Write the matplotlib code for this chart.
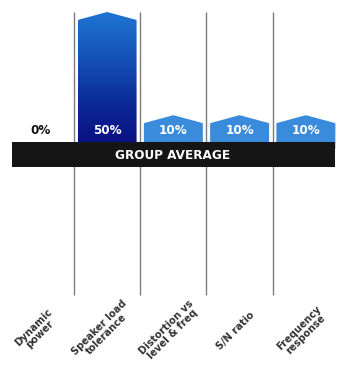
import matplotlib.pyplot as plt
import numpy as np
from matplotlib.patches import Polygon, Rectangle
from matplotlib.colors import LinearSegmentedColormap

categories = ["Dynamic\npower", "Speaker load\ntolerance", "Distortion vs\nlevel & freq",
              "S/N ratio", "Frequency\nresponse"]
values = [0, 50, 10, 10, 10]
value_labels = ["0%", "50%", "10%", "10%", "10%"]
band_label = "GROUP AVERAGE"

plt.rcParams['font.family'] = ['DejaVu Sans']
plt.rcParams['font.stretch'] = 'condensed'

fig = plt.figure(figsize=(3.48, 3.70), dpi=100)
fig.patch.set_facecolor('white')
ax = fig.add_axes([7.7 / 348, 0, 331.3 / 348, 1])

bar_w = 0.89
cap = 3.1  # height of the pointed top
blue = '#3a8bdb'
grad_cmap = LinearSegmentedColormap.from_list('g', ['#0a0c7c', '#0c2a98', '#1552b8', '#1f74d2'])

# divider lines
ax.vlines(np.arange(len(categories) - 1) + 0.5, -56.6, 53.1, color='#7c7c7c', lw=1.0, zorder=1)

top = max(values)
for i, v in enumerate(values):
    if v <= 0:
        continue
    pts = [(i - bar_w / 2, 0), (i - bar_w / 2, v), (i, v + cap), (i + bar_w / 2, v), (i + bar_w / 2, 0)]
    if v == top:
        poly = Polygon(pts, closed=True, facecolor='none', edgecolor='none', zorder=2)
        ax.add_patch(poly)
        grad = np.linspace(0, 1, 256).reshape(-1, 1)
        im = ax.imshow(grad, extent=[i - bar_w / 2, i + bar_w / 2, 0, v + cap], origin='lower',
                       aspect='auto', cmap=grad_cmap, zorder=2)
        im.set_clip_path(poly)
    else:
        ax.add_patch(Polygon(pts, closed=True, facecolor=blue, edgecolor='none', zorder=2))

# value labels
for i, (v, lab) in enumerate(zip(values, value_labels)):
    ax.text(i, 7.0, lab, ha='center', va='center', fontsize=9.5, fontweight='bold',
            color='white' if v > 0 else '#111111', zorder=5)

# group average band
ax.add_patch(Rectangle((-0.435, -6.98), 4.872, 9.69, facecolor='#151515', edgecolor='none', zorder=4))
ax.text(1.99, -2.6, band_label, ha='center', va='center', fontsize=9.6, fontweight='bold',
        color='white', zorder=5)

# category labels
for i, lab in enumerate(categories):
    ax.text(i - 0.06, -70.6, lab, rotation=45, rotation_mode='anchor', ha='center', va='center',
            multialignment='center', fontsize=7.9, fontweight='bold', color='#333333',
            linespacing=0.9)

ax.set_xlim(-0.5, 4.5)
ax.set_ylim(-85.7, 57.75)
ax.axis('off')

fig.savefig('out.png', dpi=100, facecolor='white')
